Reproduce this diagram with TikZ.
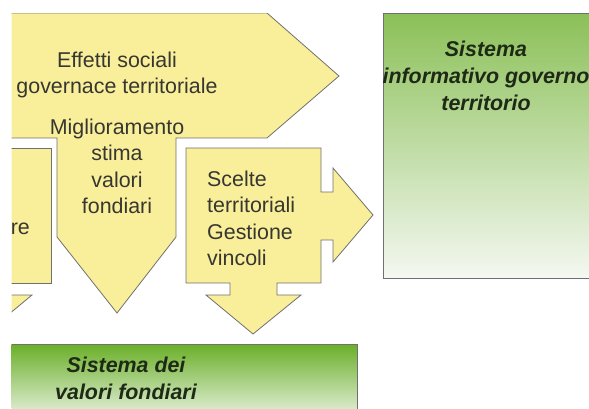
\documentclass[tikz,border=0pt]{standalone}
\usepackage{fontspec}
\setmainfont{Liberation Sans}
\definecolor{pannello}{RGB}{249,238,153}
\definecolor{bordo}{RGB}{112,112,112}
\definecolor{testogrigio}{RGB}{55,55,50}
\definecolor{testoverde}{RGB}{30,42,22}
\definecolor{verdesu}{RGB}{139,192,88}
\definecolor{verdegiu}{RGB}{244,248,241}
\definecolor{verdescuro}{RGB}{106,175,40}

\begin{document}
\begin{tikzpicture}[x=1pt, y=-1pt,
        freccia/.style={fill=pannello, draw=bordo, line width=0.8pt},
        testo/.style={inner sep=0pt, text=testogrigio, font=\fontsize{21.4}{26.6}\selectfont},
        titolo/.style={inner sep=0pt, text=testoverde, align=center, font=\fontsize{21.4}{27}\selectfont\bfseries\itshape}]
        \useasboundingbox (0,0) rectangle (589,409);
        \clip (11.5,13.5) rectangle (589,409);

        %% freccia grande in alto con la freccia in giu
        \draw [freccia] (-5,13) -- (267,13) -- (339,76) -- (267,138) -- (176,138) -- (176,237)
                -- (117,313) -- (57,237) -- (57,138) -- (-5,138) -- cycle;
        \node [testo, align=center, anchor=north] (effetti) at (117,51.4) {Effetti sociali\\governace territoriale};
        \node [testo, align=center, anchor=north] (stima) at (117,118.4) {Miglioramento\\stima\\valori\\fondiari};

        %% riquadro a sinistra
        \draw [freccia] (-100,148) -- (51,148) -- (51,283) -- (-100,283) -- cycle;
        \draw [freccia] (-62,295) -- (32,295) -- (-15,334) -- cycle;
        \node [testo, anchor=base east] (re) at (30,234) {re};

        %% scelte territoriali
        \draw [freccia] (186,148) -- (321,148) -- (321,192) -- (333,192) -- (333,168) -- (373,215)
                -- (333,262) -- (333,240) -- (321,240) -- (321,283) -- (277,283) -- (277,295)
                -- (301,295) -- (253,334) -- (206,295) -- (230,295) -- (230,283) -- (186,283) -- cycle;
        \node [testo, align=left, anchor=north west] (scelte) at (207,170.4) {Scelte\\territoriali\\Gestione\\vincoli};

        %% sistema informativo
        \shade [top color=verdesu, bottom color=verdegiu, draw=bordo, line width=0.8pt] (383,13) rectangle (600,278);
        \node [titolo, anchor=north] (informativo) at (486,40.4) {Sistema\\informativo governo\\territorio};

        %% sistema dei valori fondiari
        \shade [top color=verdescuro, bottom color=verdegiu, draw=bordo, line width=0.8pt] (-5,344) rectangle (357,425);
        \node [titolo, anchor=north] (valori) at (126,357.2) {Sistema dei\\valori fondiari};

    \end{tikzpicture}
\end{document}
